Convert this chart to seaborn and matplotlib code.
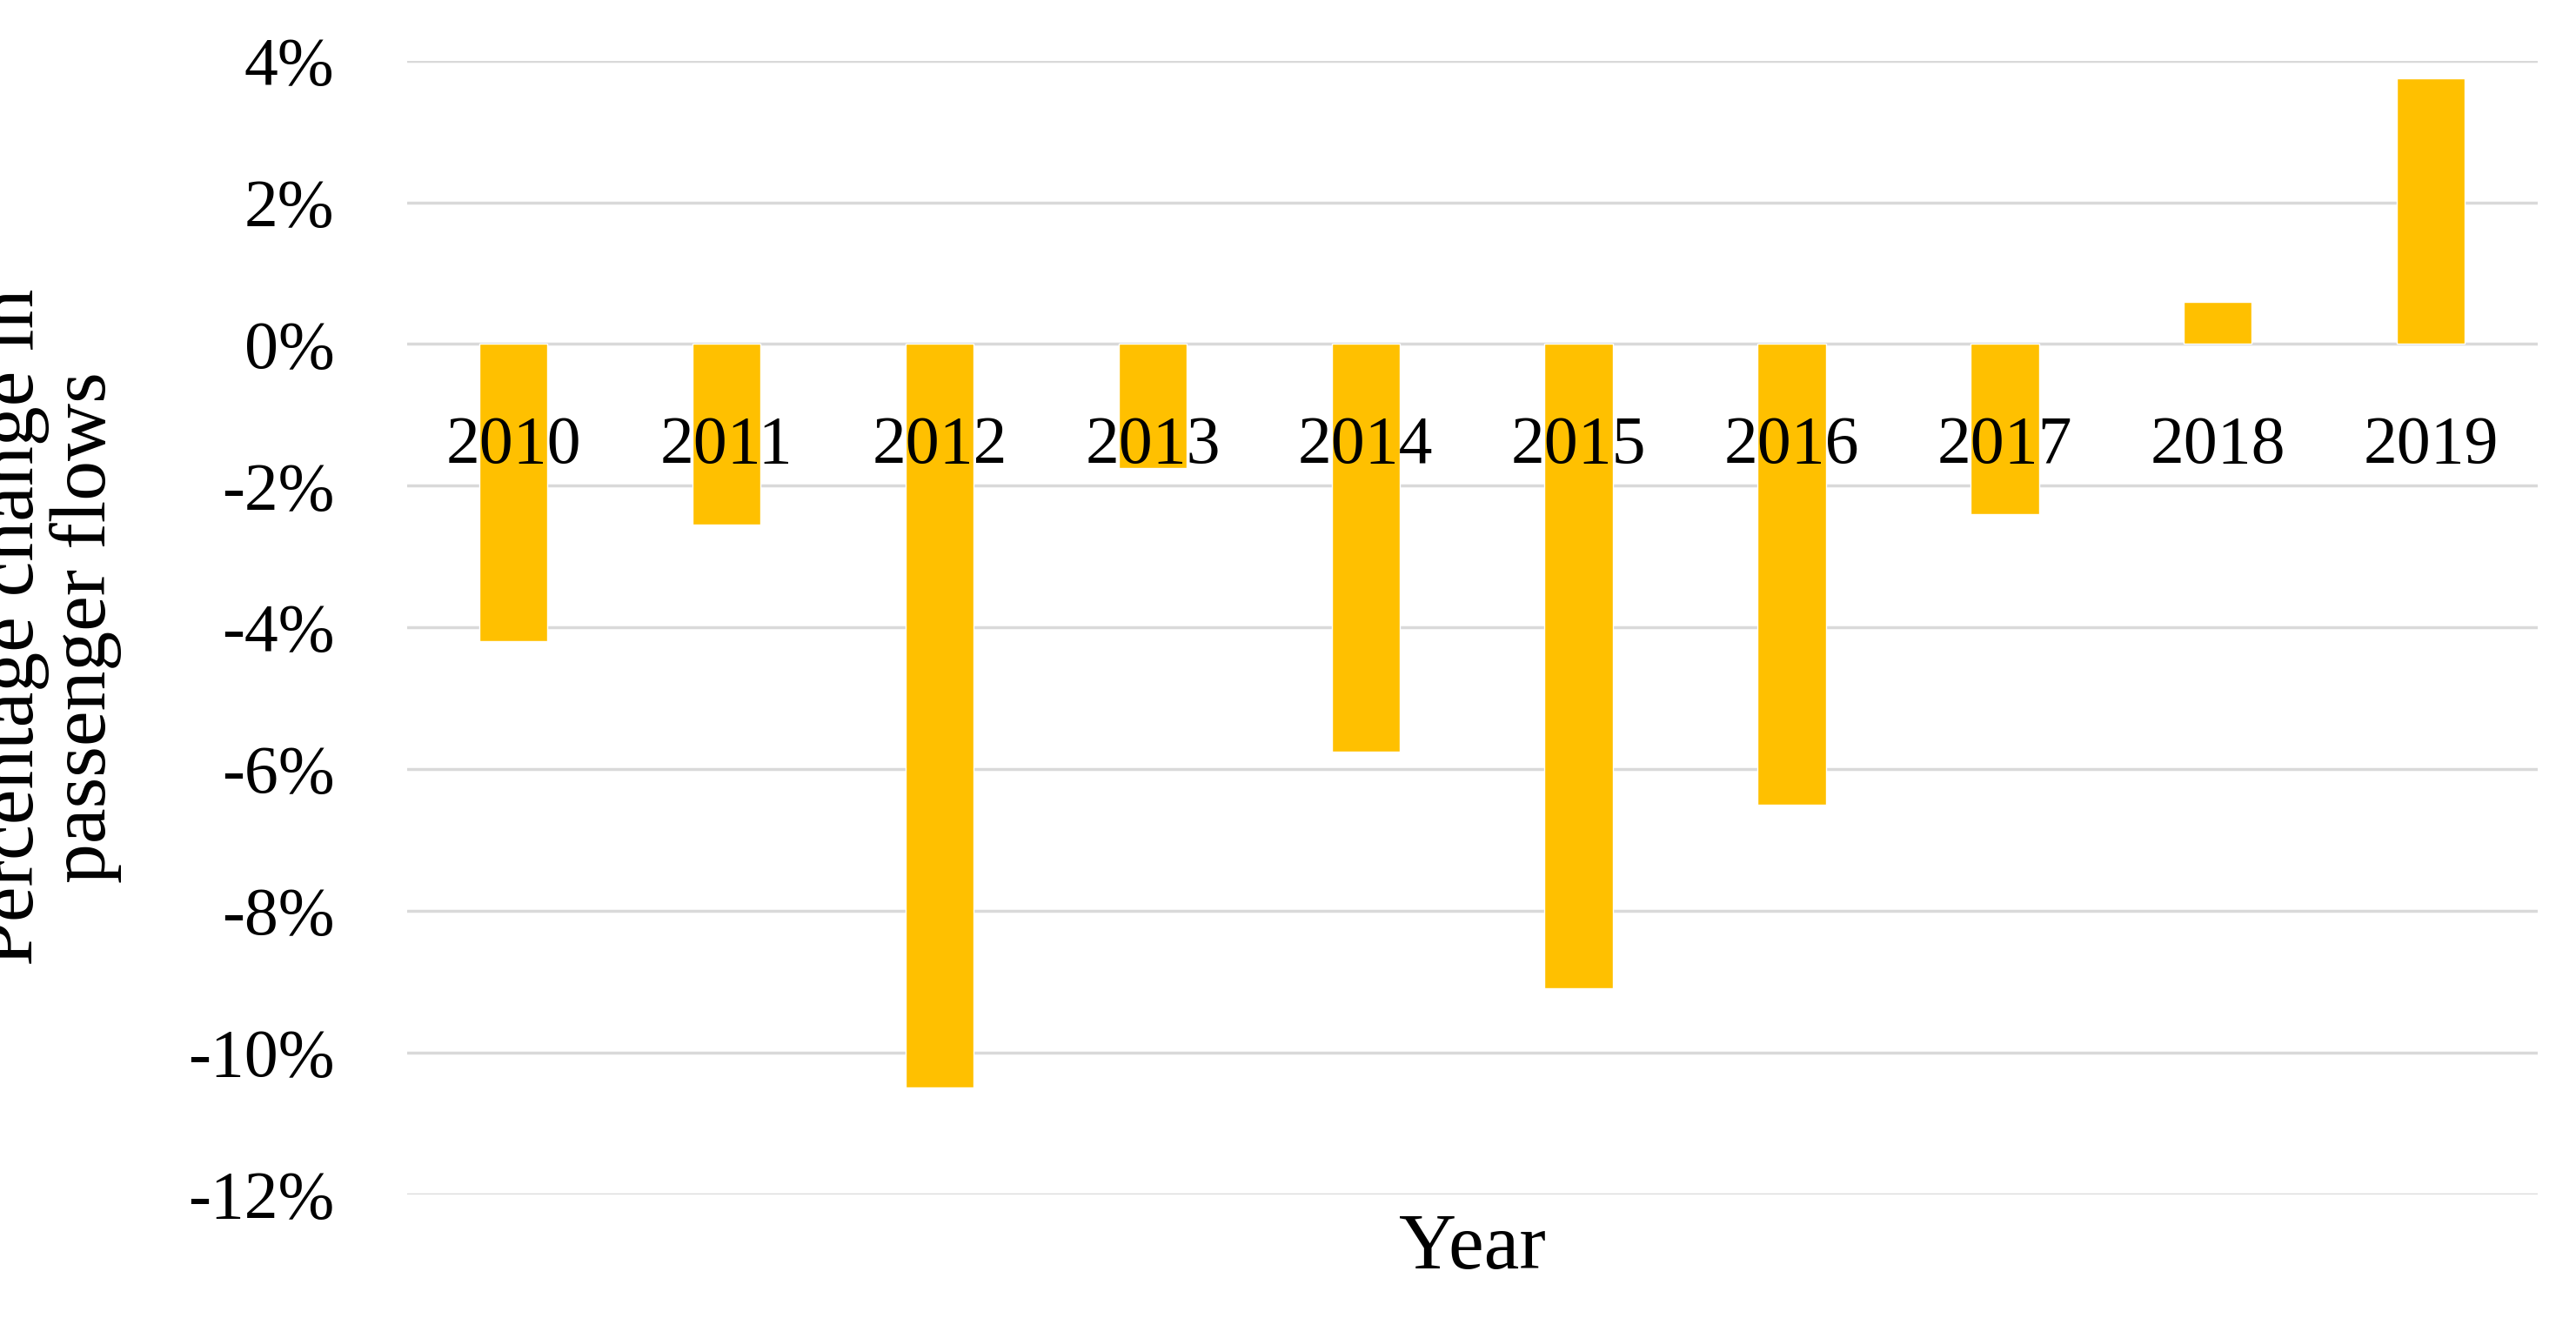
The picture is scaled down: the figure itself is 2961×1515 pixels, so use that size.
import numpy as np
import pandas as pd
import matplotlib
matplotlib.use("Agg")
import matplotlib.pyplot as plt
import seaborn as sns

years = ["2010", "2011", "2012", "2013", "2014", "2015", "2016", "2017", "2018", "2019"]
change = [-4.2, -2.55, -10.5, -1.75, -5.75, -9.1, -6.5, -2.4, 0.6, 3.75]
yticks = [4, 2, 0, -2, -4, -6, -8, -10, -12]

sns.set_theme(style="white")
plt.rcParams["font.family"] = ["Liberation Serif", "DejaVu Serif"]

df = pd.DataFrame({"Year": years, "Change": change})
fig = plt.figure(figsize=(29.61, 15.15), dpi=100)
ax = fig.add_axes([0.158, 0.094, 0.827, 0.86])
sns.barplot(data=df, x="Year", y="Change", color="#FFC000", saturation=1, width=0.32, ax=ax, zorder=3)
ax.set_ylim(-12, 4)
ax.set_yticks(yticks)
ax.set_yticklabels([f"{t}%" for t in yticks], fontsize=56, color="black")
ax.yaxis.grid(True, color="#d9d9d9", linewidth=2.5, zorder=0)
ax.tick_params(axis="y", length=0, pad=60)
ax.set_xticks(range(len(years)))
ax.set_xticklabels([])
ax.tick_params(axis="x", length=0)
for i, y in enumerate(years):
    ax.text(i, -1.45, y, ha="center", va="center", fontsize=56, color="black", zorder=4)
for s in ax.spines.values():
    s.set_visible(False)
ax.set_xlabel("Year", fontsize=66, labelpad=12, color="black")
ax.set_ylabel("Percentage change in\npassenger flows", fontsize=66, labelpad=55,
              linespacing=1.0, color="black")
fig.savefig("out.png", dpi=100)
